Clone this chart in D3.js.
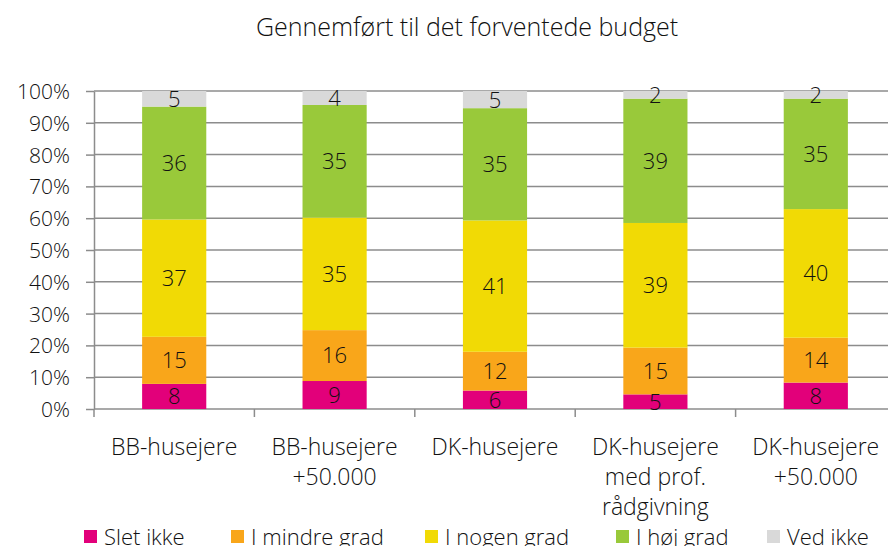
<!DOCTYPE html>
<html><head><meta charset="utf-8">
<script src="https://cdn.jsdelivr.net/npm/d3@7"></script>
<style>
html,body{margin:0;padding:0;background:#fff;}
text{font-family:"Open Sans",sans-serif;font-weight:300;fill:#111;}
</style></head>
<body><svg id="c" width="888" height="546"></svg>
<script>
const categories = [["BB-husejere"],["BB-husejere","+50.000"],["DK-husejere"],["DK-husejere","med prof.","rådgivning"],["DK-husejere","+50.000"]];
const seriesNames = ["Slet ikke","I mindre grad","I nogen grad","I høj grad","Ved ikke"];
const sletIkke    = [7.9, 8.8, 5.8, 4.6, 8.3];
const iMindreGrad = [14.8, 16.0, 12.2, 14.7, 14.1];
const iNogenGrad  = [36.9, 35.4, 41.3, 39.2, 40.4];
const iHoejGrad   = [35.5, 35.4, 35.3, 39.1, 34.7];
const vedIkke     = [4.9, 4.4, 5.4, 2.4, 2.4];
const yTicks = [0,10,20,30,40,50,60,70,80,90,100];
const colors = ["#E2007A","#F9A61A","#F1DA05","#99C93A","#D9D9D9"];
const title = "Gennemført til det forventede budget";

const svg = d3.select("#c");
const m = {left:94, right:-8, top:91, bottom:137};
const W = 888, H = 546;
const x = d3.scaleBand().domain(d3.range(categories.length)).range([m.left, W - m.right]).paddingInner(0.6).paddingOuter(0.3);
const y = d3.scaleLinear().domain([0,100]).range([409, 91]);

const seriesArr = [sletIkke, iMindreGrad, iNogenGrad, iHoejGrad, vedIkke];
const rows = categories.map((c,i)=>{
  const tot = d3.sum(seriesArr, s=>s[i]);
  const o = {i};
  seriesNames.forEach((n,k)=>{ o[n] = seriesArr[k][i]/tot*100; o["raw"+k]=seriesArr[k][i]; });
  return o;
});
const stack = d3.stack().keys(seriesNames)(rows);

svg.append("text").attr("x",467).attr("y",27).attr("dy","0.36em").attr("text-anchor","middle").style("font-size","25px").text(title);

const yAxis = d3.axisLeft(y).tickValues(yTicks).tickFormat(d=>d+"%").tickSize(8).tickSizeOuter(0);
const ga = svg.append("g").attr("transform",`translate(${m.left},0)`).call(yAxis);
ga.select(".domain").attr("stroke","#8c8c8c").attr("stroke-width",1.5);
ga.selectAll(".tick line").attr("stroke","#8c8c8c").attr("stroke-width",1.5);
ga.selectAll(".tick text").attr("x",-24).attr("dy","0.36em").style("font-size","21px").style("font-family","'Open Sans',sans-serif").attr("fill","#111");
svg.append("g").selectAll("line").data(yTicks).join("line")
  .attr("x1",m.left).attr("x2",W).attr("y1",d=>y(d)).attr("y2",d=>y(d))
  .attr("stroke","#8c8c8c").attr("stroke-width",1.5);

const step = x.step();
const xb = d3.scaleLinear().domain([0,categories.length]).range([m.left, m.left + step*categories.length]);
svg.append("g").selectAll("line").data(d3.range(categories.length+1)).join("line")
  .attr("x1",d=>xb(d)).attr("x2",d=>xb(d)).attr("y1",409).attr("y2",417)
  .attr("stroke","#8c8c8c").attr("stroke-width",1.5);

const g = svg.append("g");
stack.forEach((s,k)=>{
  g.selectAll(null).data(s).join("rect")
    .attr("x",d=>x(d.data.i)).attr("width",x.bandwidth())
    .attr("y",d=>y(d[1])).attr("height",d=>y(d[0])-y(d[1]))
    .attr("fill",colors[k]);
});
stack.forEach((s,k)=>{
  g.selectAll(null).data(s).join("text")
    .attr("x",d=>x(d.data.i)+x.bandwidth()/2)
    .attr("y",d=>(y(d[0])+y(d[1]))/2)
    .attr("dy","0.36em").attr("text-anchor","middle").style("font-size","22px")
    .text(d=>Math.round(d.data["raw"+k]));
});

const cl = svg.append("g");
categories.forEach((c,i)=>{
  const cx = x(i)+x.bandwidth()/2;
  const t = cl.append("text").attr("text-anchor","middle").style("font-size","23px").attr("x",cx).attr("y",447);
  c.forEach((line,j)=>t.append("tspan").attr("x",cx).attr("y",447+j*30).attr("dy","0.36em").text(line));
});

const legX = [84,231,425,616,767];
const lg = svg.append("g");
seriesNames.forEach((n,k)=>{
  lg.append("rect").attr("x",legX[k]).attr("y",530).attr("width",13).attr("height",13).attr("fill",colors[k]);
  lg.append("text").attr("x",legX[k]+20).attr("y",537).attr("dy","0.36em").style("font-size","22px").text(n);
});
</script></body></html>
